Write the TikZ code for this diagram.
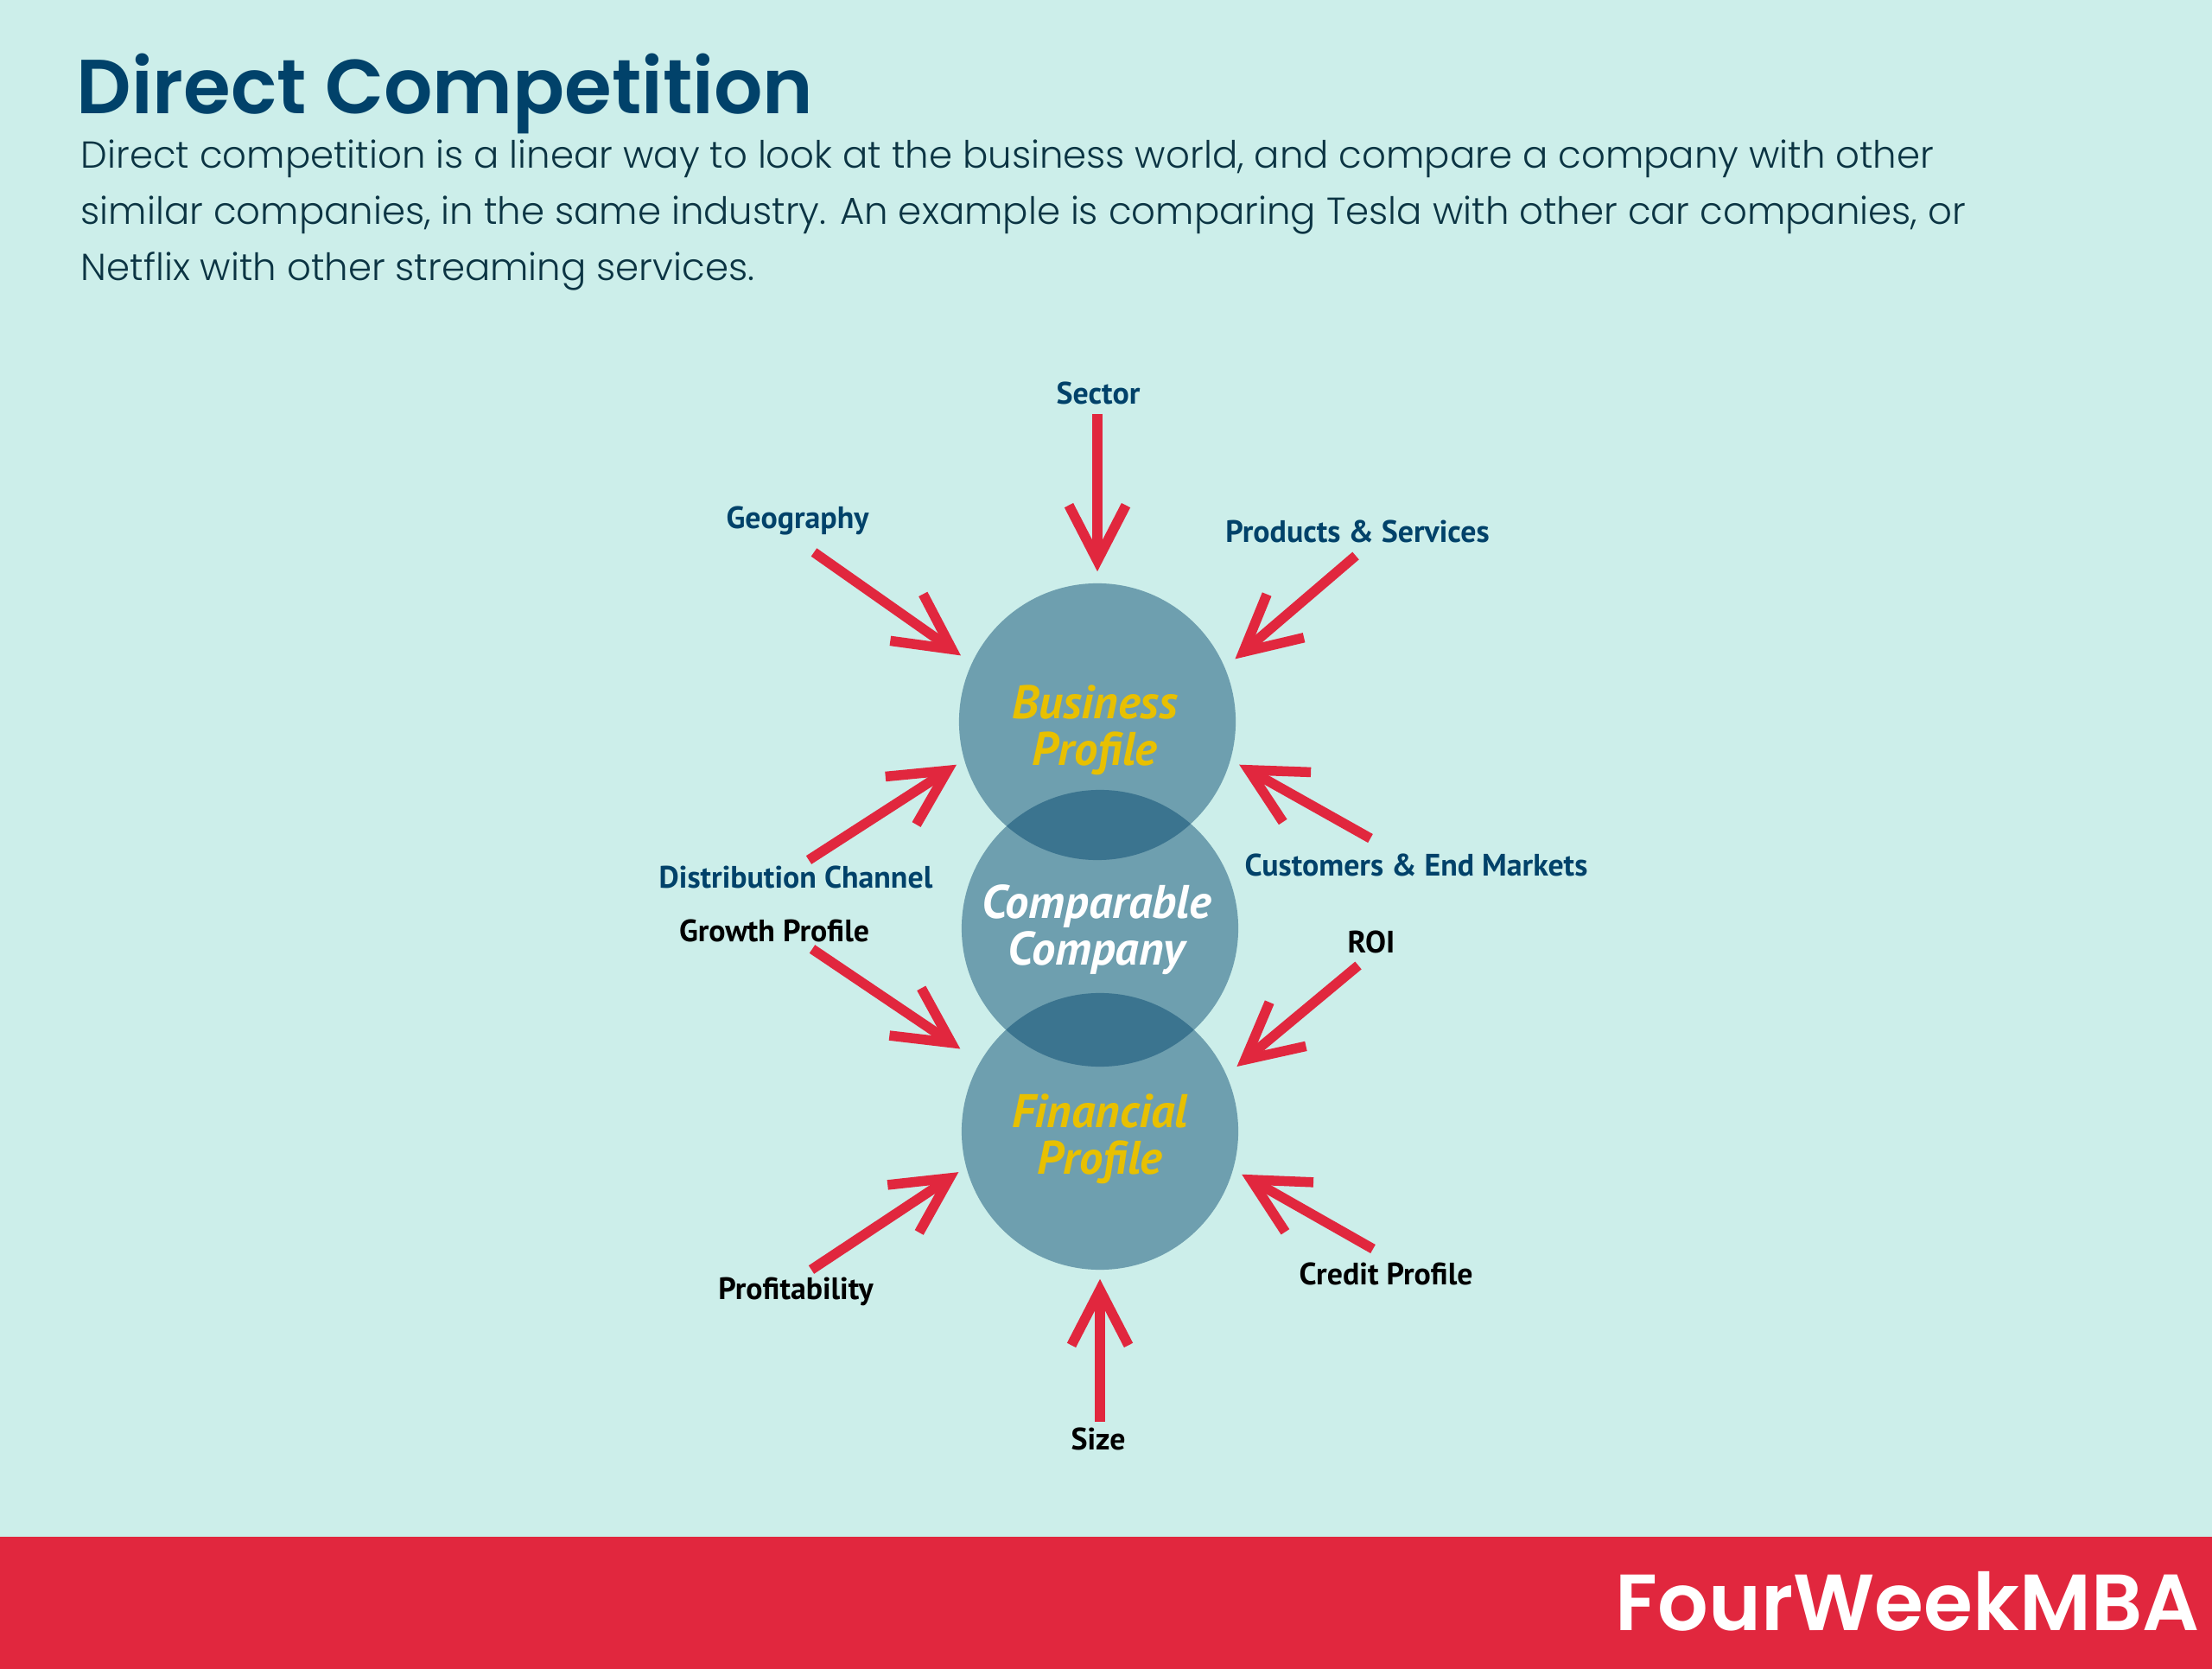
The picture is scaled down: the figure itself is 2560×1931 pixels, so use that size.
\documentclass[tikz,border=0pt]{standalone}
\usepackage{fontspec}
\usepackage{xcolor}
\usetikzlibrary{arrows.meta}
\setmainfont{PT Sans}
\newfontfamily\headfont{Poppins SemiBold}
\newfontfamily\bodyfont{Poppins Light}
\definecolor{bgmint}{HTML}{CCEEEA}
\definecolor{navy}{HTML}{01426A}
\definecolor{inkblue}{HTML}{0B3443}
\definecolor{mbared}{HTML}{E1273E}
\definecolor{gold}{HTML}{E8C000}
\tikzset{
  profile/.style={circle, minimum size=3.2cm, inner sep=0pt, fill=navy, fill opacity=0.46},
  circletext/.style={align=center, font=\fontsize{15.5}{15.4}\selectfont\bfseries\itshape},
  factor/.style={font=\fontsize{10.2}{12}\selectfont\bfseries, inner sep=0pt},
  pull/.style={draw=mbared, line width=0.115cm, -{Straight Barb[length=0.64cm,width=0.66cm,line width=0.115cm]}}
}

\begin{document}
\begin{tikzpicture}[x=0.01cm,y=-0.01cm]
    \path[use as bounding box] (0,0) rectangle (2560,1931);
    \fill[bgmint] (0,0) rectangle (2560,1931);
    \fill[mbared] (0,1778) rectangle (2560,1931);

    % heading and intro
    \node[anchor=base west,inner sep=0pt,text=navy,font=\fontsize{25.2}{26}\selectfont\headfont] at (88,132) (title) {Direct Competition};
    \node[anchor=base west,inner sep=0pt,align=left,text=inkblue,font=\fontsize{12.36}{18.5}\selectfont\bodyfont] at (93,325) (intro) {Direct competition is a linear way to look at the business world, and compare a company with other\\similar companies, in the same industry. An example is comparing Tesla with other car companies, or\\Netflix with other streaming services.};
    \node[anchor=base east,inner sep=0pt,text=white,font=\fontsize{26.2}{28}\selectfont\headfont] at (2546,1886) (brand) {FourWeekMBA};

    % the three circles
    \node[profile] at (1270,835) (business) {};
    \node[profile] at (1273,1074) (comparable) {};
    \node[profile] at (1273,1309) (financial) {};

    \node[circletext,text=gold] at (1267,845) (businesstext) {Business\\Profile};
    \node[circletext,text=white] at (1269,1076) (comparabletext) {Comparable\\Company};
    \node[circletext,text=gold] at (1273,1318) (financialtext) {Financial\\Profile};

    % labels around business profile
    \node[factor,text=navy] at (1271,455) (sector) {Sector};
    \node[factor,text=navy] at (923,602) (geography) {Geography};
    \node[factor,text=navy] at (1571,615) (products) {Products \& Services};
    \node[factor,text=navy] at (921,1015) (distribution) {Distribution Channel};
    \node[factor,text=navy] at (1639,1001) (customers) {Customers \& End Markets};

    % labels around financial profile
    \node[factor] at (896,1077) (growth) {Growth Profile};
    \node[factor] at (1587,1090) (roi) {ROI};
    \node[factor] at (921,1494) (profitability) {Profitability};
    \node[factor] at (1604,1474) (credit) {Credit Profile};
    \node[factor] at (1271,1665) (size) {Size};

    \coordinate (sectortail) at (1270,479);
    \coordinate (geographytail) at (942,639);
    \coordinate (productstail) at (1569,643);
    \coordinate (distributiontail) at (936,995);
    \coordinate (customerstail) at (1586,970);
    \coordinate (growthtail) at (940,1098);
    \coordinate (roitail) at (1572,1117);
    \coordinate (profitabilitytail) at (939,1469);
    \coordinate (credittail) at (1589,1445);
    \coordinate (sizetail) at (1273,1645);

    \draw[pull,shorten >=0.13cm] (sectortail) -- (business.north);
    \draw[pull,shorten >=0.15cm] (geographytail) -- (business.155.9);
    \draw[pull,shorten >=0.15cm] (productstail) -- (business.23.9);
    \draw[pull,shorten >=0.10cm] (distributiontail) -- (business.196);
    \draw[pull,shorten >=0.11cm] (customerstail) -- (business.344);

    \draw[pull,shorten >=0.27cm] (growthtail) -- (financial.150.4);
    \draw[pull,shorten >=0.15cm] (roitail) -- (financial.24.1);
    \draw[pull,shorten >=0.10cm] (profitabilitytail) -- (financial.195.9);
    \draw[pull,shorten >=0.11cm] (credittail) -- (financial.344.1);
    \draw[pull,shorten >=0.10cm] (sizetail) -- (financial.south);
\end{tikzpicture}
\end{document}
